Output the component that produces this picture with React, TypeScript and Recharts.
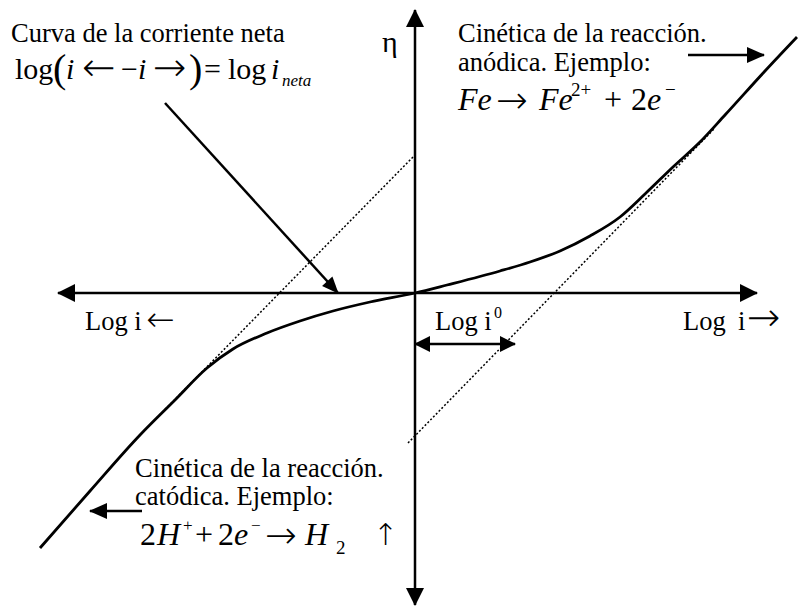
import React from 'react';
import { ComposedChart, Line, XAxis, YAxis } from 'recharts';

// Units: x = log i (10 px per unit), y = overpotential η (10 px per unit)
type Pt = { x: number; y: number };

// Net current curve, log|i_net| against η
const netCurve: Pt[] = [
  { x: -37.5, y: -25.5 },
  { x: -32.5, y: -19.8 },
  { x: -27.5, y: -14.2 },
  { x: -24.0, y: -10.7 },
  { x: -20.8, y: -7.5 },
  { x: -18.2, y: -5.6 },
  { x: -14.8, y: -4.0 },
  { x: -11.5, y: -2.8 },
  { x: -8.2, y: -1.8 },
  { x: -4.5, y: -0.9 },
  { x: 0, y: 0 },
  { x: 3.2, y: 0.8 },
  { x: 8.5, y: 2.2 },
  { x: 11.5, y: 3.1 },
  { x: 14.5, y: 4.2 },
  { x: 17.5, y: 5.7 },
  { x: 20.5, y: 7.6 },
  { x: 23.0, y: 9.9 },
  { x: 25.8, y: 12.6 },
  { x: 28.5, y: 15.1 },
  { x: 31.0, y: 17.8 },
  { x: 35.0, y: 22.2 },
  { x: 38.2, y: 25.6 },
];

// Tafel extrapolations
const anodicTafel: Pt[] = [
  { x: -0.7, y: -15.0 },
  { x: 30.0, y: 16.5 },
];
const cathodicTafel: Pt[] = [
  { x: -0.2, y: 13.6 },
  { x: -27.5, y: -14.2 },
];

// Axes and pointer arrows (first point -> second point)
const hAxis: Pt[] = [
  { x: -35.7, y: 0 },
  { x: 34.2, y: 0 },
];
const vAxis: Pt[] = [
  { x: 0, y: 28.3 },
  { x: 0, y: -31.2 },
];
const netPointer: Pt[] = [
  { x: -25.0, y: 19.0 },
  { x: -7.7, y: 0 },
];
const anodicPointer: Pt[] = [
  { x: 27.3, y: 23.8 },
  { x: 34.9, y: 23.8 },
];
const cathodicPointer: Pt[] = [
  { x: -27.3, y: -21.8 },
  { x: -32.5, y: -21.8 },
];
const exchangeSpan: Pt[] = [
  { x: 0, y: -5.1 },
  { x: 10, y: -5.1 },
];

const serif = "'Liberation Serif', 'Times New Roman', serif";
const arrowFont = "'DejaVu Sans', sans-serif";

type Heads = 'end' | 'both';

function ArrowTip(props: any) {
  const { cx, cy, index, points, heads, len = 17, half = 8 } = props;
  if (!points || points.length < 2) return <g />;
  const last = points.length - 1;
  const isTip = index === last || (heads === 'both' && index === 0);
  if (!isTip) return <g />;
  const other = index === 0 ? points[1] : points[index - 1];
  const dx = cx - other.x;
  const dy = cy - other.y;
  const d = Math.hypot(dx, dy) || 1;
  const ux = dx / d;
  const uy = dy / d;
  const bx = cx - ux * len;
  const by = cy - uy * len;
  const tri = `${cx + ux},${cy + uy} ${bx - uy * half},${by + ux * half} ${bx + uy * half},${by - ux * half}`;
  return <polygon points={tri} fill="#000" stroke="none" />;
}

function arrowLine(key: string, data: Pt[], heads: Heads, width = 2.5, len = 17, half = 8) {
  return (
    <Line
      key={key}
      data={data}
      dataKey="y"
      type="linear"
      stroke="#000"
      strokeWidth={width}
      dot={(p: any) => <ArrowTip key={`${key}-${p.index}`} {...p} heads={heads} len={len} half={half} />}
      activeDot={false}
      isAnimationActive={false}
    />
  );
}

export default function App() {
  return (
    <div style={{ position: 'absolute', left: 0, top: 0, background: '#fff' }}>
      <ComposedChart width={798} height={607} margin={{ top: 0, right: 0, bottom: 0, left: 0 }}>
        <XAxis type="number" dataKey="x" domain={[-41.5, 38.3]} allowDataOverflow hide />
        <YAxis type="number" domain={[-31.4, 29.3]} allowDataOverflow hide />

        <Line
          data={anodicTafel}
          dataKey="y"
          type="linear"
          stroke="#000"
          strokeWidth={1.5}
          strokeDasharray="2 2"
          dot={false}
          activeDot={false}
          isAnimationActive={false}
        />
        <Line
          data={cathodicTafel}
          dataKey="y"
          type="linear"
          stroke="#000"
          strokeWidth={1.5}
          strokeDasharray="2 2"
          dot={false}
          activeDot={false}
          isAnimationActive={false}
        />

        {arrowLine('h-axis', hAxis, 'both', 2.5, 17, 9)}
        {arrowLine('v-axis', vAxis, 'both', 2.5, 17, 9)}
        {arrowLine('net', netPointer, 'end', 2.5, 16, 7)}
        {arrowLine('anodic', anodicPointer, 'end', 2.5, 17, 8)}
        {arrowLine('cathodic', cathodicPointer, 'end', 2.5, 17, 8)}
        {arrowLine('i0', exchangeSpan, 'both', 2.5, 15, 8)}

        <Line
          data={netCurve}
          dataKey="y"
          type="monotone"
          stroke="#000"
          strokeWidth={2.8}
          dot={false}
          activeDot={false}
          isAnimationActive={false}
        />

        <g fontFamily={serif} fill="#000" style={{ whiteSpace: 'pre' }}>
          <text x={11} y={42} fontSize={26.5}>Curva de la corriente neta</text>
          <text y={79} fontSize={30}>
            <tspan x={15}>log</tspan>
            <tspan x={53} y={82} fontSize={40}>(</tspan>
            <tspan x={66} y={79} fontStyle="italic">i</tspan>
            <tspan x={82} y={81} fontFamily={arrowFont} fontWeight={200} fontSize={40}>←</tspan>
            <tspan x={121} y={79}>−</tspan>
            <tspan x={138} fontStyle="italic">i</tspan>
            <tspan x={153} y={81} fontFamily={arrowFont} fontWeight={200} fontSize={40}>→</tspan>
            <tspan x={189} y={82} fontSize={40}>)</tspan>
            <tspan x={204} y={79}>=</tspan>
            <tspan x={228}>log</tspan>
            <tspan x={271} fontStyle="italic">i</tspan>
            <tspan x={282} y={86} fontStyle="italic" fontSize={17}>neta</tspan>
          </text>

          <text x={382} y={52} fontSize={30}>η</text>

          <text x={458} y={42} fontSize={26.5}>Cinética de la reacción.</text>
          <text x={458} y={71} fontSize={26.5}>anódica. Ejemplo:</text>
          <text y={110} fontSize={32}>
            <tspan x={458} fontStyle="italic">Fe</tspan>
            <tspan x={496} y={113} fontFamily={arrowFont} fontWeight={200} fontSize={38}>→</tspan>
            <tspan x={539} y={110} fontStyle="italic">Fe</tspan>
            <tspan x={571} y={96} fontSize={19}>2+</tspan>
            <tspan x={604} y={110}>+</tspan>
            <tspan x={631}>2</tspan>
            <tspan x={647} fontStyle="italic">e</tspan>
            <tspan x={665} y={96} fontSize={19}>−</tspan>
          </text>

          <text y={330} fontSize={26.5}>
            <tspan x={85}>Log i</tspan>
            <tspan x={146} y={331} fontFamily={arrowFont} fontWeight={200} fontSize={34}>←</tspan>
          </text>
          <text y={330} fontSize={26.5}>
            <tspan x={435}>Log i</tspan>
            <tspan x={494} y={318} fontSize={16}>0</tspan>
          </text>
          <text y={330} fontSize={26.5}>
            <tspan x={683}>Log</tspan>
            <tspan x={738}>i</tspan>
            <tspan x={747} y={331} fontFamily={arrowFont} fontWeight={200} fontSize={40}>→</tspan>
          </text>

          <text x={135} y={477} fontSize={26.5}>Cinética de la reacción.</text>
          <text x={135} y={505} fontSize={26.5}>catódica. Ejemplo:</text>
          <text y={545} fontSize={32}>
            <tspan x={140}>2</tspan>
            <tspan x={157} fontStyle="italic">H</tspan>
            <tspan x={183} y={531} fontSize={17}>+</tspan>
            <tspan x={195} y={545}>+</tspan>
            <tspan x={218}>2</tspan>
            <tspan x={234} fontStyle="italic">e</tspan>
            <tspan x={251} y={531} fontSize={17}>−</tspan>
            <tspan x={265} y={548} fontFamily={arrowFont} fontWeight={200} fontSize={38}>→</tspan>
            <tspan x={305} y={545} fontStyle="italic">H</tspan>
            <tspan x={336} y={554} fontSize={19}>2</tspan>
            <tspan x={373} y={545} fontFamily={arrowFont} fontWeight={200} fontSize={30}>↑</tspan>
          </text>
        </g>
      </ComposedChart>
    </div>
  );
}
